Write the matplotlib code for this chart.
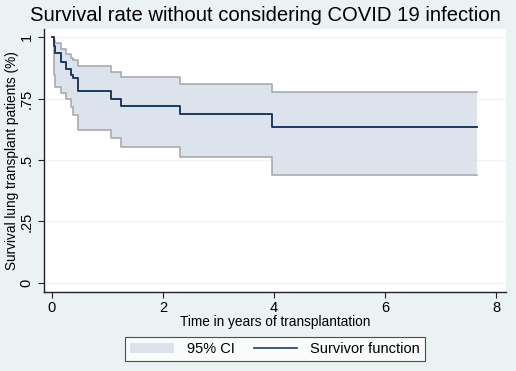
import numpy as np
import matplotlib.pyplot as plt
from matplotlib.patches import Patch
from matplotlib.lines import Line2D

# Kaplan-Meier estimate
t = [0, 0.03, 0.06, 0.16, 0.25, 0.34, 0.37, 0.46, 1.06, 1.25, 2.31, 3.96]
surv = [1, 0.965, 0.934, 0.90, 0.87, 0.845, 0.832, 0.78, 0.75, 0.72, 0.687, 0.635]
lower = [1, 0.846, 0.798, 0.771, 0.75, 0.717, 0.683, 0.622, 0.588, 0.552, 0.513, 0.439]
upper = [1, 0.99, 0.975, 0.95, 0.93, 0.915, 0.905, 0.882, 0.859, 0.836, 0.809, 0.775]
t_end = 7.65

xticks = [0, 2, 4, 6, 8]
yticks = [0, 0.25, 0.5, 0.75, 1]
ylabels = ["0", ".25", ".5", ".75", "1"]

plt.rcParams['font.family'] = ['Liberation Sans', 'DejaVu Sans']

bg = "#eaf2f3"
fig = plt.figure(figsize=(5.16, 3.71), dpi=100, facecolor=bg)
ax = fig.add_axes([44/516, 79/371, 462/516, 263/371])
ax.set_facecolor("white")

tt = np.array(t + [t_end])
s = np.array(surv + [surv[-1]])
lo = np.array(lower + [lower[-1]])
up = np.array(upper + [upper[-1]])

ax.fill_between(tt, lo, up, step="post", color="#dde3ec", lw=0, zorder=2)
ax.step(tt, lo, where="post", color="#a9abad", lw=1.2, zorder=3)
ax.step(tt, up, where="post", color="#a9abad", lw=1.2, zorder=3)
ax.step(tt, s, where="post", color="#1c3b5e", lw=1.4, zorder=4)

ax.set_xlim(-0.144, 8.18)
ax.set_ylim(-0.037, 1.033)
ax.set_xticks(xticks)
ax.set_yticks(yticks)
ax.set_yticklabels(ylabels, rotation=90, va="center")
ax.tick_params(labelsize=10.5, length=4, width=0.8, color="#222222")
ax.tick_params(axis="x", pad=2.5)
for y in yticks:
    ax.axhline(y, color="#eef3f3", lw=0.8, zorder=1)

for side in ["top", "right"]:
    ax.spines[side].set_visible(False)
for side in ["left", "bottom"]:
    ax.spines[side].set_color("#222222")
    ax.spines[side].set_linewidth(1.0)

ax.set_xlabel("Time in years of transplantation", fontsize=9.8, labelpad=0)
ax.set_ylabel("Survival lung transplant patients (%)", fontsize=9.8, labelpad=0.5)
fig.suptitle("Survival rate without considering COVID 19 infection", fontsize=14.6, x=0.515, y=0.985)

handles = [Patch(facecolor="#dde3ec", edgecolor="none"),
           Line2D([0], [0], color="#1c3b5e", lw=1.2)]
leg = fig.legend(handles, ["95% CI", "Survivor function"], ncol=2, loc="center",
                 bbox_to_anchor=(275/516, 1 - 349/371), fontsize=10.5, frameon=True,
                 fancybox=False, edgecolor="#222222", handlelength=3.0, handletextpad=0.9,
                 columnspacing=1.3, borderpad=0.35)
leg.get_frame().set_linewidth(0.8)

fig.savefig("out.png", dpi=100, facecolor=bg)
